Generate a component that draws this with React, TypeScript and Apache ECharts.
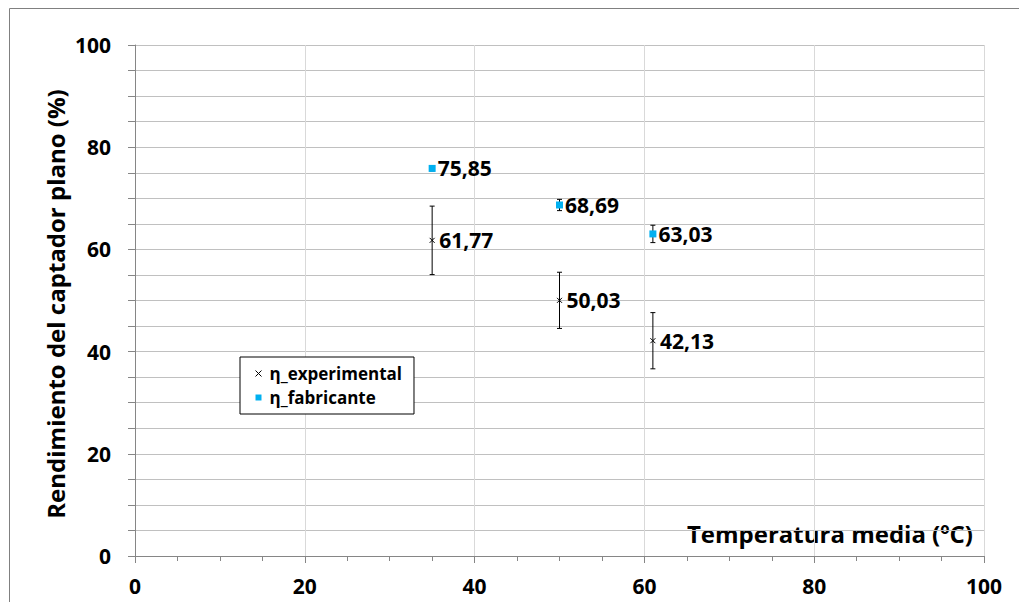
import React, { useEffect, useRef } from "react";
import * as echarts from "echarts";

const temps = [35, 50, 61];
const expValues = [61.77, 50.03, 42.13];
const expErrors = [6.7, 5.5, 5.5];
const fabValues = [75.85, 68.69, 63.03];
const fabErrors = [0.5, 1.1, 1.7];
const yTickLabels = [0, 20, 40, 60, 80, 100];
const xTickLabels = [0, 20, 40, 60, 80, 100];

const FONT = "'Open Sans', 'Noto Sans', sans-serif";
const fmt = (v: number) => v.toFixed(2).replace(".", ",");

export default function App() {
  const ref = useRef<HTMLDivElement>(null);
  useEffect(() => {
    document.body.style.margin = "0";
    const chart = echarts.init(ref.current!, null, { renderer: "svg" });
    const errRender = (params: any, api: any) => {
      const x = api.value(0);
      const lo = api.value(1);
      const hi = api.value(2);
      const p1 = api.coord([x, hi]);
      const p2 = api.coord([x, lo]);
      const w = 2.5;
      const st = { stroke: "#000", lineWidth: 1 };
      return {
        type: "group",
        children: [
          { type: "line", shape: { x1: p1[0], y1: p1[1], x2: p2[0], y2: p2[1] }, style: st },
          { type: "line", shape: { x1: p1[0] - w, y1: p1[1], x2: p1[0] + w, y2: p1[1] }, style: st },
          { type: "line", shape: { x1: p2[0] - w, y1: p2[1], x2: p2[0] + w, y2: p2[1] }, style: st },
        ],
      };
    };
    const expErrData = temps.map((t, i) => [t, expValues[i] - expErrors[i], expValues[i] + expErrors[i]]);
    const fabErrData = temps.map((t, i) => [t, fabValues[i] - fabErrors[i], fabValues[i] + fabErrors[i]]);
    const labelStyle = {
      show: true,
      position: "right" as const,
      distance: 2,
      fontFamily: FONT,
      fontWeight: "bold" as const,
      fontSize: 21,
      color: "#000",
      textBorderWidth: 0,
      opacity: 1,
      formatter: (p: any) => fmt(p.value[1]),
    };
    chart.setOption({
      animation: false,
      backgroundColor: "#fff",
      grid: { left: 135, right: 35, top: 45, bottom: 46 },
      legend: {
        left: 240,
        top: 357,
        orient: "vertical",
        backgroundColor: "#fff",
        borderColor: "#000",
        borderWidth: 1,
        borderRadius: 0,
        padding: [8, 12, 8, 13],
        itemGap: 7,
        itemWidth: 6,
        itemHeight: 6,
        textStyle: { fontFamily: FONT, fontWeight: "bold", fontSize: 17, color: "#000", padding: [0, 0, 0, 3] },
        data: [
          { name: "η_experimental", icon: "path://M0,0L10,10M10,0L0,10", itemStyle: { color: "none", borderColor: "#000", borderWidth: 1 } },
          { name: "η_fabricante", icon: "rect" },
        ],
      },
      xAxis: {
        type: "value",
        min: 0,
        max: 100,
        interval: 20,
        axisLine: { show: true, lineStyle: { color: "#868686", width: 1 } },
        axisTick: { show: true, length: 7, lineStyle: { color: "#868686" } },
        minorTick: { show: true, splitNumber: 4, length: 5, lineStyle: { color: "#868686" } },
        splitLine: { show: true, lineStyle: { color: "#d9d9d9", width: 1 } },
        axisLabel: {
          margin: 19,
          fontFamily: FONT,
          fontWeight: "bold",
          fontSize: 21,
          color: "#000",
          formatter: (v: number) => (xTickLabels.includes(v) ? String(v) : ""),
        },
      },
      yAxis: {
        type: "value",
        min: 0,
        max: 100,
        interval: 5,
        axisLine: { show: true, lineStyle: { color: "#868686", width: 1 } },
        axisTick: { show: true, length: 7, lineStyle: { color: "#868686" } },
        splitLine: { show: true, lineStyle: { color: "#c0c0c0", width: 1 } },
        axisLabel: {
          margin: 24,
          fontFamily: FONT,
          fontWeight: "bold",
          fontSize: 21,
          color: "#000",
          formatter: (v: number) => (yTickLabels.includes(v) ? String(v) : ""),
        },
      },
      graphic: [
        {
          type: "rect",
          silent: true,
          shape: { x: 9.5, y: 8.5, width: 1100, height: 700 },
          style: { fill: "none", stroke: "#808080", lineWidth: 1 },
        },
        {
          type: "text",
          x: 55,
          y: 304,
          rotation: Math.PI / 2,
          style: {
            text: "Rendimiento del captador plano (%)",
            fontFamily: FONT,
            fontWeight: "bold",
            fontSize: 24,
            fill: "#000",
            align: "center",
            verticalAlign: "middle",
          },
        },
        {
          type: "text",
          x: 973,
          y: 533,
          style: {
            text: "Temperatura media (ºC)",
            fontFamily: FONT,
            fontWeight: "bold",
            fontSize: 24,
            fill: "#000",
            align: "right",
            verticalAlign: "middle",
          },
        },
      ],
      series: [
        {
          type: "custom",
          name: "expErr",
          renderItem: errRender,
          data: expErrData,
          z: 3,
          silent: true,
        },
        {
          type: "custom",
          name: "fabErr",
          renderItem: errRender,
          data: fabErrData,
          z: 3,
          silent: true,
        },
        {
          type: "scatter",
          name: "η_experimental",
          symbol: "path://M0,0L10,10M10,0L0,10",
          symbolSize: 5,
          itemStyle: { color: "none", borderColor: "#000", borderWidth: 1, opacity: 1 },
          data: temps.map((t, i) => [t, expValues[i]]),
          label: labelStyle,
          z: 5,
        },
        {
          type: "scatter",
          name: "η_fabricante",
          symbol: "rect",
          symbolSize: 7,
          itemStyle: { color: "#00b0f0", opacity: 1 },
          data: temps.map((t, i) => [t, fabValues[i]]),
          label: labelStyle,
          z: 5,
        },
      ],
    });
    return () => chart.dispose();
  }, []);
  return <div ref={ref} style={{ width: 1019, height: 602 }} />;
}
